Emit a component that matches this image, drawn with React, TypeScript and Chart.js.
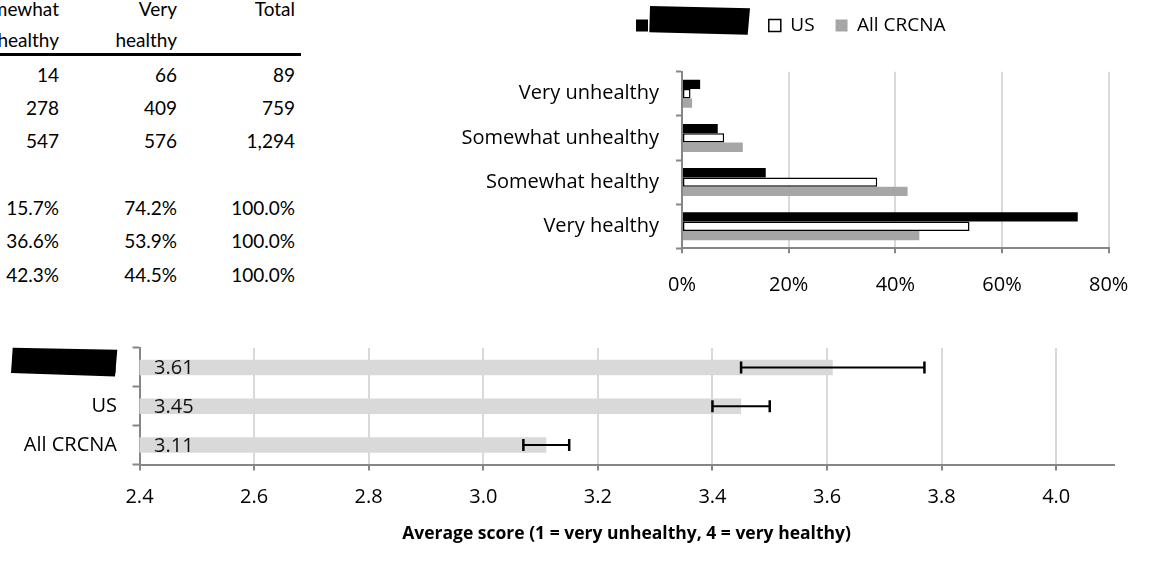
import React, { useEffect, useRef } from 'react';
import { Chart, registerables } from 'chart.js';

Chart.register(...registerables);

const FONT = "'Open Sans', 'DejaVu Sans', sans-serif";
const TABLE_FONT = "Lato, 'Open Sans', sans-serif";

// ---------- top chart: share of responses ----------
const healthCategories = ['Very unhealthy', 'Somewhat unhealthy', 'Somewhat healthy', 'Very healthy'];
const localName = 'Local area'; // redacted in the source picture
const seriesNames = [localName, 'US', 'All CRCNA'];
const localShare = [3.4, 6.7, 15.7, 74.2];
const usShare = [1.6, 7.9, 36.6, 53.9];
const crcnaShare = [1.9, 11.4, 42.3, 44.5];
const shareTickValues = [0, 20, 40, 60, 80];

// ---------- bottom chart: average score ----------
const scoreGroups = [localName, 'US', 'All CRCNA'];
const scoreMeans = [3.61, 3.45, 3.11];
const scoreMargins = [0.16, 0.05, 0.04];
const scoreTickValues = [2.4, 2.6, 2.8, 3.0, 3.2, 3.4, 3.6, 3.8, 4.0];
const scoreAxisMin = 2.4;
const scoreAxisMax = 4.1;
const scoreAxisTitle = 'Average score (1 = very unhealthy, 4 = very healthy)';

// ---------- table (left part cut off) ----------
const tableHeadTop = ['Somewhat', 'Very', 'Total'];
const tableHeadBottom = ['healthy', 'healthy', ''];
const somewhatHealthyCounts = [14, 278, 547];
const veryHealthyCounts = [66, 409, 576];
const totalCounts = [89, 759, 1294];
const somewhatHealthyPct = [15.7, 36.6, 42.3];
const veryHealthyPct = [74.2, 53.9, 44.5];
const totalPct = [100, 100, 100];

const TOP = { left: 440, top: -4, width: 710, height: 300 };
const BOT = { left: 0, top: 300, width: 1150, height: 262 };
const LEGEND_START = 636 - TOP.left;
const LEGEND_BLOCK = 75.7;
const LEGEND_DY = -1;

function drawPoly(ctx: CanvasRenderingContext2D, pts: number[][]) {
  ctx.save();
  ctx.fillStyle = '#000';
  ctx.beginPath();
  ctx.moveTo(pts[0][0], pts[0][1]);
  for (let i = 1; i < pts.length; i++) ctx.lineTo(pts[i][0], pts[i][1]);
  ctx.closePath();
  ctx.fill();
  ctx.restore();
}

const legendPlace = {
  id: 'legendPlace',
  beforeLayout(chart: any) {
    const lg = chart.legend;
    if (lg && !lg.__gap) {
      const fit = lg.fit;
      lg.fit = function () {
        fit.call(this);
        this.height = LEGEND_BLOCK;
      };
      lg.__gap = true;
    }
  },
  afterLayout(chart: any) {
    const lg = chart.legend;
    if (!lg || !lg.lineWidths) return;
    const p = lg.options.labels.padding;
    const start = (lg.left + p + lg.right - lg.lineWidths[0]) / 2;
    const dx = LEGEND_START - start;
    lg.left += dx;
    lg.right += dx;
    lg.top += LEGEND_DY;
    lg.bottom += LEGEND_DY;
  },
};

const legendRedact = {
  id: 'legendRedact',
  afterDraw(chart: any) {
    const hb = chart.legend && chart.legend.legendHitBoxes && chart.legend.legendHitBoxes[0];
    if (!hb) return;
    const x = hb.left;
    const yc = hb.top + hb.height / 2;
    drawPoly(chart.ctx, [
      [x + 14, yc - 19.5],
      [x + 114, yc - 17.2],
      [x + 111.7, yc + 9.2],
      [x + 13.3, yc + 6.8],
    ]);
  },
};

const axisRedact = {
  id: 'axisRedact',
  afterDraw(chart: any) {
    const s = chart.scales.y;
    const xr = s.right - 7 - 15.5;
    const yc = s.getPixelForTick(0);
    drawPoly(chart.ctx, [
      [xr - 104.3, yc - 19.6],
      [xr + 0.3, yc - 17.6],
      [xr - 2, yc + 9.1],
      [xr - 106, yc + 5.7],
    ]);
  },
};

const scoreLabels = {
  id: 'scoreLabels',
  afterDatasetsDraw(chart: any) {
    const ctx = chart.ctx;
    const meta = chart.getDatasetMeta(0);
    const xs = chart.scales.x;
    ctx.save();
    ctx.font = `20px ${FONT}`;
    ctx.fillStyle = '#111';
    ctx.textAlign = 'left';
    ctx.textBaseline = 'middle';
    meta.data.forEach((bar: any, i: number) => {
      ctx.fillText(scoreMeans[i].toFixed(2), xs.getPixelForValue(scoreAxisMin) + 14.5, bar.y + 1);
    });
    ctx.restore();
  },
};

const errorBars = {
  id: 'errorBars',
  afterDatasetsDraw(chart: any) {
    const ctx = chart.ctx;
    const meta = chart.getDatasetMeta(0);
    const xs = chart.scales.x;
    ctx.save();
    ctx.strokeStyle = '#000';
    meta.data.forEach((bar: any, i: number) => {
      const lo = xs.getPixelForValue(scoreMeans[i] - scoreMargins[i]);
      const hi = xs.getPixelForValue(scoreMeans[i] + scoreMargins[i]);
      const y = bar.y;
      ctx.lineWidth = 2;
      ctx.beginPath();
      ctx.moveTo(lo, y);
      ctx.lineTo(hi, y);
      ctx.stroke();
      ctx.lineWidth = 2.5;
      ctx.beginPath();
      ctx.moveTo(lo, y - 6);
      ctx.lineTo(lo, y + 6);
      ctx.moveTo(hi, y - 6);
      ctx.lineTo(hi, y + 6);
      ctx.stroke();
    });
    ctx.restore();
  },
};

function ShareChart() {
  const ref = useRef<HTMLCanvasElement>(null);
  useEffect(() => {
    const chart = new Chart(ref.current as HTMLCanvasElement, {
      type: 'bar',
      data: {
        labels: healthCategories,
        datasets: [
          { label: seriesNames[0], data: localShare, backgroundColor: '#000', borderWidth: 0 },
          { label: seriesNames[1], data: usShare, backgroundColor: '#fff', borderColor: '#000', borderWidth: 1.5, borderSkipped: false },
          { label: seriesNames[2], data: crcnaShare, backgroundColor: '#a6a6a6', borderWidth: 0 },
        ] as any,
      },
      options: {
        indexAxis: 'y',
        responsive: false,
        maintainAspectRatio: false,
        animation: false,
        layout: { padding: { left: 0, right: 41.3, top: 0, bottom: 0 } },
        datasets: { bar: { categoryPercentage: 0.636, barPercentage: 1 } },
        plugins: {
          legend: {
            position: 'top',
            labels: { boxWidth: 12, boxHeight: 12, padding: 21, color: '#000', font: { family: FONT, size: 19 } },
          },
          tooltip: { enabled: false },
        },
        scales: {
          x: {
            min: 0,
            max: 80,
            afterBuildTicks: (s: any) => { s.ticks = shareTickValues.map((v) => ({ value: v })); },
            ticks: { callback: (v: any) => `${v}%`, padding: 19.7, color: '#000', font: { family: FONT, size: 20 } },
            grid: { color: '#d9d9d9', lineWidth: 2, tickColor: '#868686', tickWidth: 2, tickLength: 5 },
            border: { color: '#868686', width: 2 },
            afterFit: (s: any) => { s.height = 47.7; },
          },
          y: {
            ticks: { padding: 17, color: '#000', font: { family: FONT, size: 20 } },
            grid: { drawOnChartArea: false, offset: true, tickColor: '#868686', tickWidth: 2, tickLength: 6 },
            border: { color: '#868686', width: 2 },
            afterFit: (s: any) => { s.width = 682 - TOP.left; },
          },
        },
      } as any,
      plugins: [legendPlace, legendRedact],
    });
    return () => chart.destroy();
  }, []);
  return (
    <canvas
      ref={ref}
      width={TOP.width}
      height={TOP.height}
      style={{ position: 'absolute', left: TOP.left, top: TOP.top, width: TOP.width, height: TOP.height }}
    />
  );
}

function ScoreChart() {
  const ref = useRef<HTMLCanvasElement>(null);
  useEffect(() => {
    const chart = new Chart(ref.current as HTMLCanvasElement, {
      type: 'bar',
      data: {
        labels: scoreGroups,
        datasets: [
          { label: 'Average score', data: scoreMeans, backgroundColor: '#d9d9d9', borderWidth: 0, categoryPercentage: 0.4, barPercentage: 1 },
        ] as any,
      },
      options: {
        indexAxis: 'y',
        responsive: false,
        maintainAspectRatio: false,
        animation: false,
        layout: { padding: { left: 0, right: 36.5, top: 48, bottom: 0 } },
        plugins: { legend: { display: false }, tooltip: { enabled: false } },
        scales: {
          x: {
            min: scoreAxisMin,
            max: scoreAxisMax,
            afterBuildTicks: (s: any) => { s.ticks = scoreTickValues.map((v) => ({ value: v })); },
            ticks: { callback: (v: any) => Number(v).toFixed(1), padding: 15, color: '#000', font: { family: FONT, size: 20 } },
            grid: { color: '#d9d9d9', lineWidth: 2, tickColor: '#868686', tickWidth: 2, tickLength: 6 },
            border: { color: '#868686', width: 2 },
            title: {
              display: true,
              text: scoreAxisTitle,
              color: '#000',
              font: { family: FONT, size: 17.5, weight: 'bold' },
              padding: { top: 0, bottom: 17 },
            },
            afterFit: (s: any) => { s.height = 97.5; },
          },
          y: {
            ticks: { padding: 15.5, color: '#000', font: { family: FONT, size: 20 } },
            grid: { drawOnChartArea: false, offset: true, tickColor: '#868686', tickWidth: 2, tickLength: 7 },
            border: { color: '#868686', width: 2 },
            afterFit: (s: any) => { s.width = 139.5; },
          },
        },
      } as any,
      plugins: [scoreLabels, errorBars, axisRedact],
    });
    return () => chart.destroy();
  }, []);
  return (
    <canvas
      ref={ref}
      width={BOT.width}
      height={BOT.height}
      style={{ position: 'absolute', left: BOT.left, top: BOT.top, width: BOT.width, height: BOT.height }}
    />
  );
}

function CutTable() {
  const colRight = [59, 177, 295];
  const baselines = [16, 46.7, 81.7, 115, 148.3, 215, 248.3, 281.7];
  const fmtCount = (n: number) => n.toLocaleString('en-US');
  const fmtPct = (n: number) => `${n.toFixed(1)}%`;
  const rows: string[][] = [
    tableHeadTop,
    tableHeadBottom,
    ...somewhatHealthyCounts.map((_, i) => [fmtCount(somewhatHealthyCounts[i]), fmtCount(veryHealthyCounts[i]), fmtCount(totalCounts[i])]),
    ...somewhatHealthyPct.map((_, i) => [fmtPct(somewhatHealthyPct[i]), fmtPct(veryHealthyPct[i]), fmtPct(totalPct[i])]),
  ];
  const W = 320;
  return (
    <div style={{ position: 'absolute', left: 0, top: 0, width: W, height: 300, fontFamily: TABLE_FONT, fontSize: 19, color: '#000' }}>
      {rows.map((row, r) =>
        row.map((txt, c) => (
          <span
            key={`${r}-${c}`}
            style={{
              position: 'absolute',
              right: W - colRight[c],
              top: baselines[r] - 17,
              lineHeight: '19px',
              whiteSpace: 'nowrap',
            }}
          >
            {txt}
          </span>
        ))
      )}
      <div style={{ position: 'absolute', left: 0, top: 53.3, width: 301, height: 2.7, background: '#000' }} />
    </div>
  );
}

export default function App() {
  return (
    <div style={{ position: 'fixed', left: 0, top: 0, width: 1150, height: 562, background: '#fff', overflow: 'hidden' }}>
      <CutTable />
      <ShareChart />
      <ScoreChart />
    </div>
  );
}
